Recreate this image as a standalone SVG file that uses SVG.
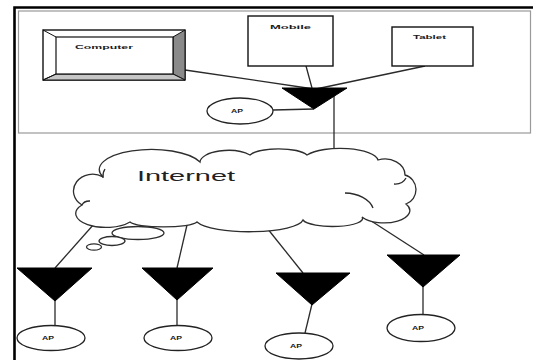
<svg xmlns="http://www.w3.org/2000/svg" width="533" height="360" viewBox="0 0 533 360">
  <defs>
    <style>
      .wire { stroke: #2a2a2a; stroke-width: 1.3; fill: none; }
      .box { fill: #ffffff; stroke: #111111; stroke-width: 1.4; }
      .ap { fill: #ffffff; stroke: #222222; stroke-width: 1.3; }
      .hub { fill: #000000; stroke: #000000; stroke-width: 1; }
      .tiny { font-family: "Liberation Sans", Arial, sans-serif; font-size: 6px; font-weight: bold; fill: #1a1a1a; }
      .cloud { fill: #ffffff; stroke: #2e2e2e; stroke-width: 1.3; }
      .cloudtext { font-family: "Liberation Sans", Arial, sans-serif; font-size: 14px; fill: #222222; }
    </style>
  </defs>

  <rect x="0" y="0" width="533" height="360" fill="#ffffff"/>

  <!-- page frame and local-network enclosure -->
  <g id="frame">
    <rect x="18.5" y="11" width="512" height="122" fill="none" stroke="#9a9a9a" stroke-width="1.2"/>
    <path d="M14.5,360 V7.5 H533" fill="none" stroke="#000000" stroke-width="2.6"/>
  </g>

  <!-- connectors -->
  <g id="connectors">
    <line class="wire" x1="185" y1="70" x2="314" y2="89"/>
    <line class="wire" x1="306" y1="66" x2="312" y2="88"/>
    <line class="wire" x1="425" y1="66" x2="316" y2="89"/>
    <line class="wire" x1="273" y1="110" x2="314" y2="109"/>
    <line class="wire" x1="334" y1="88" x2="334" y2="152"/>
    <line class="wire" x1="102" y1="215" x2="55" y2="268"/>
    <line class="wire" x1="187" y1="225" x2="177" y2="268"/>
    <line class="wire" x1="267" y1="228" x2="303" y2="273"/>
    <line class="wire" x1="362" y1="215" x2="424" y2="255"/>
    <line class="wire" x1="55" y1="300" x2="55" y2="326"/>
    <line class="wire" x1="177" y1="299" x2="177" y2="326"/>
    <line class="wire" x1="312" y1="304" x2="305" y2="333"/>
    <line class="wire" x1="423" y1="286" x2="423" y2="315"/>
  </g>

  <!-- desktop computer with bevelled frame -->
  <g id="computer">
    <rect class="box" x="43" y="30" width="142" height="50"/>
    <polygon points="173,37 185,30 185,80 173,74" fill="#8a8a8a" stroke="#111" stroke-width="1"/>
    <polygon points="56,74 173,74 185,80 43,80" fill="#c6c6c6" stroke="#111" stroke-width="1"/>
    <line x1="43" y1="30" x2="56" y2="37" stroke="#111" stroke-width="1"/>
    <line x1="43" y1="80" x2="56" y2="74" stroke="#111" stroke-width="1"/>
    <rect x="56" y="37" width="117" height="37" fill="#ffffff" stroke="#111" stroke-width="1.2"/>
    <text class="tiny" x="75" y="49" textLength="58" lengthAdjust="spacingAndGlyphs">Computer</text>
  </g>

  <g id="mobile">
    <rect class="box" x="248" y="16" width="85" height="50"/>
    <text class="tiny" x="270" y="29" textLength="41" lengthAdjust="spacingAndGlyphs">Mobile</text>
  </g>

  <g id="tablet">
    <rect class="box" x="392" y="27" width="81" height="39"/>
    <text class="tiny" x="413" y="39" textLength="33" lengthAdjust="spacingAndGlyphs">Tablet</text>
  </g>

  <g id="hub-local">
    <polygon class="hub" points="282,88 347,88 314,109"/>
  </g>

  <g id="ap-local">
    <ellipse class="ap" cx="240" cy="111" rx="33" ry="13"/>
    <text class="tiny" x="231" y="113" textLength="12" lengthAdjust="spacingAndGlyphs">AP</text>
  </g>

  <!-- internet cloud -->
  <g id="internet">
    <path class="cloud" d="M103,177 A52,20 0 0 1 200,162 A28,12 0 0 1 250,155 A30,9 0 0 1 307,155 A38,13 0 0 1 378,160 A20,16 0 0 1 405,175 A14,15 0 0 1 406,204 A25,12 0 0 1 362,217 A30,8 0 0 1 303,220 A54,13 0 0 1 197,222 A34,6 0 0 1 130,222 A26,12 0 0 1 82,205 A17,15 0 0 1 103,177 Z"/>
    <path class="wire" d="M103,178 A6,10 0 0 1 105,169"/>
    <path class="wire" d="M345,193 A30,20 0 0 1 373,208"/>
    <path class="wire" d="M394,184 A12,10 0 0 0 406,178"/>
    <path class="wire" d="M82,205 A8,6 0 0 1 90,201"/>
    <ellipse class="cloud" cx="138" cy="233" rx="26" ry="6.5"/>
    <ellipse class="cloud" cx="112" cy="241" rx="13" ry="4.5"/>
    <ellipse class="cloud" cx="94" cy="247" rx="7.5" ry="3.2"/>
    <text class="cloudtext" x="137" y="181" textLength="98" lengthAdjust="spacingAndGlyphs">Internet</text>
  </g>

  <!-- remote access points -->
  <g id="hub-1">
    <polygon class="hub" points="17,268 92,268 55,301"/>
  </g>
  <g id="ap-1">
    <ellipse class="ap" cx="51" cy="338" rx="34" ry="12.5"/>
    <text class="tiny" x="42" y="340" textLength="12" lengthAdjust="spacingAndGlyphs">AP</text>
  </g>

  <g id="hub-2">
    <polygon class="hub" points="142,268 213,268 177,300"/>
  </g>
  <g id="ap-2">
    <ellipse class="ap" cx="178" cy="338" rx="34" ry="12.5"/>
    <text class="tiny" x="170" y="340" textLength="12" lengthAdjust="spacingAndGlyphs">AP</text>
  </g>

  <g id="hub-3">
    <polygon class="hub" points="276,273 350,273 312,305"/>
  </g>
  <g id="ap-3">
    <ellipse class="ap" cx="299" cy="346" rx="34" ry="13"/>
    <text class="tiny" x="290" y="348" textLength="12" lengthAdjust="spacingAndGlyphs">AP</text>
  </g>

  <g id="hub-4">
    <polygon class="hub" points="387,255 460,255 423,287"/>
  </g>
  <g id="ap-4">
    <ellipse class="ap" cx="421" cy="328" rx="34" ry="13.5"/>
    <text class="tiny" x="412" y="330" textLength="12" lengthAdjust="spacingAndGlyphs">AP</text>
  </g>
</svg>
